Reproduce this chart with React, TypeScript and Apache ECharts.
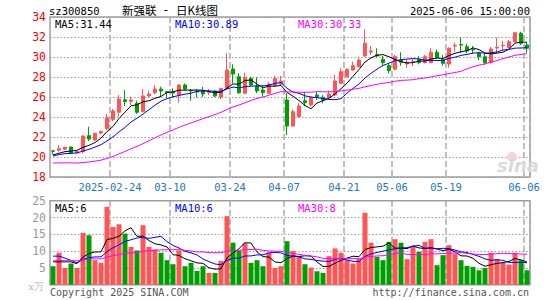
import React, { useEffect, useRef } from 'react';
import * as echarts from 'echarts';

const dates = [
  '2025-02-10','2025-02-11','2025-02-12','2025-02-13','2025-02-14','2025-02-17','2025-02-18','2025-02-19','2025-02-20','2025-02-21',
  '2025-02-24','2025-02-25','2025-02-26','2025-02-27','2025-02-28','2025-03-03','2025-03-04','2025-03-05','2025-03-06','2025-03-07',
  '2025-03-10','2025-03-11','2025-03-12','2025-03-13','2025-03-14','2025-03-17','2025-03-18','2025-03-19','2025-03-20','2025-03-21',
  '2025-03-24','2025-03-25','2025-03-26','2025-03-27','2025-03-28','2025-03-31','2025-04-01','2025-04-02','2025-04-03','2025-04-07',
  '2025-04-08','2025-04-09','2025-04-10','2025-04-11','2025-04-14','2025-04-15','2025-04-16','2025-04-17','2025-04-18','2025-04-21',
  '2025-04-22','2025-04-23','2025-04-24','2025-04-25','2025-04-28','2025-04-29','2025-04-30','2025-05-06','2025-05-07','2025-05-08',
  '2025-05-09','2025-05-12','2025-05-13','2025-05-14','2025-05-15','2025-05-16','2025-05-19','2025-05-20','2025-05-21','2025-05-22',
  '2025-05-23','2025-05-26','2025-05-27','2025-05-28','2025-05-29','2025-05-30','2025-06-03','2025-06-04','2025-06-05','2025-06-06'
];

const opens = [
  20.62,20.68,20.78,21.00,20.42,20.55,22.13,21.70,22.40,22.85,
  23.77,24.47,25.72,25.57,25.37,24.53,26.10,26.43,26.80,26.55,
  26.50,26.20,27.20,26.65,26.60,26.60,26.45,26.60,26.00,26.87,
  28.80,28.03,26.37,27.87,27.10,26.70,26.37,27.13,27.30,25.70,
  23.10,24.03,25.63,25.20,26.20,25.97,25.97,26.20,27.37,28.03,
  28.70,29.03,30.10,30.50,30.23,29.77,29.13,28.77,29.70,29.30,
  29.53,29.77,29.43,29.43,30.47,29.77,29.30,31.10,31.25,31.03,
  30.75,30.37,30.03,29.43,30.90,31.13,30.93,31.53,32.37,31.20
];
const closes = [
  20.57,20.83,20.98,20.40,20.55,22.10,21.80,22.37,22.55,23.93,
  24.60,25.80,25.55,25.70,24.47,26.10,26.30,26.80,26.60,26.45,
  26.40,27.20,26.80,26.60,26.50,26.30,26.55,26.10,26.87,28.70,
  28.30,26.43,27.93,27.20,26.60,26.43,27.30,27.87,27.60,23.10,
  24.53,25.10,25.43,25.97,25.97,25.70,26.30,27.60,28.53,28.77,
  29.13,29.70,31.37,30.60,30.10,29.43,28.63,30.03,29.47,29.47,
  29.57,29.43,30.03,30.47,29.97,29.37,30.87,31.17,31.20,30.60,
  30.70,30.03,29.43,30.80,30.97,31.17,31.53,32.43,31.37,30.87
];
const lows = [
  20.25,20.55,20.72,20.35,20.38,20.35,21.60,21.60,22.25,22.70,
  23.60,24.03,25.10,25.20,24.30,24.47,25.93,26.30,25.97,25.90,
  26.00,25.43,26.70,25.63,25.95,26.00,26.20,26.00,25.80,26.77,
  27.37,26.30,26.30,27.03,26.37,26.03,26.30,27.03,27.10,22.20,
  23.03,23.95,25.10,25.10,25.70,25.37,25.87,26.10,27.30,27.97,
  28.63,28.97,30.03,30.20,29.97,29.20,28.37,28.70,29.13,28.93,
  29.10,29.27,29.37,29.37,29.87,29.13,28.93,30.53,30.43,30.37,
  30.37,29.70,29.20,29.37,30.37,30.70,30.87,31.43,31.20,30.43
];
const highs = [
  20.64,21.20,21.02,21.05,20.60,22.15,23.03,22.42,22.65,24.30,
  24.80,26.20,26.70,26.03,25.63,26.80,26.63,27.20,27.03,26.60,
  26.87,27.30,27.35,26.80,26.75,27.00,26.80,26.70,26.90,30.37,
  29.27,28.37,28.43,28.03,27.97,27.20,27.47,28.10,28.10,26.37,
  24.77,25.37,26.53,26.10,26.53,26.20,26.63,28.20,28.87,28.87,
  29.53,30.03,32.77,31.10,30.87,30.10,29.37,30.20,30.47,29.70,
  29.77,30.10,30.20,30.87,30.77,30.20,30.97,31.43,31.97,31.30,
  31.10,30.53,30.37,31.03,31.97,31.63,31.70,32.53,32.53,31.43
];
// volume, unit 万手
const volumes = [
  5.5,9.5,5.0,6.3,5.0,15.4,14.7,7.3,6.5,23.2,
  17.2,18.0,15.2,11.25,10.2,17.7,11.25,10.5,9.5,7.3,
  6.1,10.2,5.5,6.5,4.1,5.5,3.5,3.5,7.1,20.4,
  12.5,10.2,12.3,6.5,7.3,5.5,9.5,5.0,5.5,12.95,
  10.0,8.5,6.1,5.1,4.0,3.5,8.5,10.8,9.5,7.3,
  6.3,7.8,21.4,12.5,8.3,7.3,12.75,13.55,12.5,7.6,
  11.25,9.8,12.75,13.55,5.8,8.8,11.75,9.3,7.3,5.6,
  5.3,4.3,5.0,9.5,7.6,6.5,6.0,9.5,7.3,4.3
];
// estimated lead-in sessions before the first visible day (needed for the moving averages)
const leadCloses = [
  20.8,20.6,20.7,20.9,20.6,20.2,19.8,19.5,19.0,18.6,
  18.3,18.0,17.6,17.4,17.8,17.5,18.0,18.3,18.6,18.9,
  19.6,19.9,20.1,20.2,20.2,20.0,20.2,20.1,20.2
];
const leadVolumes = [
  6.0,7.5,5.5,6.8,8.0,5.2,6.5,7.0,5.8,6.2,
  7.3,5.0,6.6,7.2,5.9,6.4,7.0,5.6,6.1,6.4,
  9.5,11.0,13.0,12.3,5.2,9.5,5.0,6.3,7.7
];

const tickDates = ['2025-02-24','2025-03-10','2025-03-24','2025-04-07','2025-04-21','2025-05-06','2025-05-19','2025-06-06'];
const tickLabels = ['2025-02-24','03-10','03-24','04-07','04-21','05-06','05-19','06-06'];
const priceMaLabels = ['MA5:31.44','MA10:30.89','MA30:30.33'];
const volumeMaLabels = ['MA5:6','MA10:6','MA30:8'];
const maPeriods = [5, 10, 30];
const maColors = ['#000000', '#0000ff', '#ff00ff'];

const UP = '#ff5555';
const DOWN = '#009f00';
const MONO = '"DejaVu Sans Mono", "Liberation Mono", monospace';
const CJK = '"Noto Sans CJK SC", "Noto Sans", sans-serif';

function movingAverage(values: number[], lead: number[], n: number): number[] {
  const all = lead.concat(values);
  return values.map((_, i) => {
    const end = lead.length + i;
    let s = 0;
    for (let k = end - n + 1; k <= end; k++) s += all[k];
    return +(s / n).toFixed(3);
  });
}

export default function App() {
  const ref = useRef<HTMLDivElement>(null);
  useEffect(() => {
    if (!ref.current) return;
    const chart = echarts.init(ref.current, undefined, { renderer: 'svg' });
    const tickSet = new Set(tickDates);
    const labelOf: Record<string, string> = {};
    tickDates.forEach((d, i) => (labelOf[d] = tickLabels[i]));
    const isTick = (_i: number, v: string) => tickSet.has(v);

    const kData = dates.map((_, i) => [opens[i], closes[i], lows[i], highs[i]]);
    const volData = volumes.map((v, i) => ({
      value: v,
      itemStyle: { color: closes[i] >= opens[i] ? UP : DOWN },
    }));

    const gridLineV = { show: true, interval: isTick, lineStyle: { color: '#aaaaaa', width: 1.5, type: [6, 3] as any } };
    const gridLineH = { show: true, lineStyle: { color: '#999999', width: 1, type: [1.5, 2] as any } };

    const priceMaSeries = maPeriods.map((n, k) => ({
      type: 'line', xAxisIndex: 0, yAxisIndex: 0, name: 'MA' + n,
      data: movingAverage(closes, leadCloses, n),
      showSymbol: false, symbol: 'none', silent: true,
      lineStyle: { color: maColors[k], width: 1 }, z: 3,
    }));
    const volMaSeries = maPeriods.map((n, k) => ({
      type: 'line', xAxisIndex: 1, yAxisIndex: 1, name: 'VMA' + n,
      data: movingAverage(volumes, leadVolumes, n),
      showSymbol: false, symbol: 'none', silent: true,
      lineStyle: { color: maColors[k], width: 1 }, z: 3,
    }));

    const maTextX = [55, 175, 298];
    const graphics: any[] = [
      { type: 'text', x: 49, y: 10.5, style: { text: 'sz300850', font: '10.5px ' + MONO, fill: '#000', verticalAlign: 'middle' } },
      { type: 'text', x: 122, y: 10, style: { text: '新强联', font: '11.5px ' + CJK, fill: '#000', verticalAlign: 'middle' } },
      { type: 'text', x: 166, y: 10, style: { text: '-', font: '11.5px ' + MONO, fill: '#000', align: 'center', verticalAlign: 'middle' } },
      { type: 'text', x: 176, y: 10, style: { text: '日K线图', font: '11.5px ' + CJK, fill: '#000', verticalAlign: 'middle' } },
      { type: 'text', x: 530, y: 10.5, style: { text: '2025-06-06 15:00:00', font: '10.5px ' + MONO, fill: '#000', align: 'right', verticalAlign: 'middle' } },
      { type: 'text', x: 44, y: 286, style: { text: 'x万', font: '10px "DejaVu Serif"', fill: '#bbbbbb', align: 'right', verticalAlign: 'middle' } },
      { type: 'text', x: 50, y: 292.5, style: { text: 'Copyright 2025 SINA.COM', font: '10px ' + MONO, fill: '#555', verticalAlign: 'middle' } },
      { type: 'text', x: 529, y: 292.5, style: { text: 'http://finance.sina.com.cn', font: '10px ' + MONO, fill: '#555', align: 'right', verticalAlign: 'middle' } },
      { type: 'circle', shape: { cx: 512, cy: 157, r: 5 }, style: { fill: '#f3d3d3' }, z: 1 },
      { type: 'text', x: 497, y: 165, style: { text: 'sina', font: 'italic bold 18px "DejaVu Sans"', fill: '#dadada', verticalAlign: 'middle' }, z: 1 },
    ];
    priceMaLabels.forEach((t, k) => graphics.push({
      type: 'text', x: maTextX[k], y: 24, z: 10,
      style: { text: t, font: '10.5px ' + MONO, fill: maColors[k], verticalAlign: 'middle' },
    }));
    volumeMaLabels.forEach((t, k) => graphics.push({
      type: 'text', x: maTextX[k], y: 207.5, z: 10,
      style: { text: t, font: '10.5px ' + MONO, fill: maColors[k], verticalAlign: 'middle' },
    }));

    chart.setOption({
      animation: false,
      grid: [
        { left: 50, right: 15, top: 17, height: 160, show: true, borderColor: '#a0a0a0', borderWidth: 1.5, backgroundColor: 'transparent' },
        { left: 50, right: 15, top: 200.7, height: 84, show: true, borderColor: '#a0a0a0', borderWidth: 1.5, backgroundColor: 'transparent' },
      ],
      xAxis: [
        {
          type: 'category', gridIndex: 0, data: dates, boundaryGap: true,
          axisLine: { show: false }, axisTick: { show: false },
          axisLabel: {
            show: true, interval: isTick, formatter: (v: string) => labelOf[v] || '',
            color: '#1a78c2', fontSize: 10.5, fontFamily: MONO, margin: 4, padding: [0, 6, 0, 0],
          },
          splitLine: gridLineV,
        },
        {
          type: 'category', gridIndex: 1, data: dates, boundaryGap: true,
          axisLine: { show: false }, axisTick: { show: false }, axisLabel: { show: false },
          splitLine: gridLineV,
        },
      ],
      yAxis: [
        {
          type: 'value', gridIndex: 0, min: 18, max: 34, interval: 2,
          axisLine: { show: false }, axisTick: { show: false },
          axisLabel: { color: '#ff0000', fontSize: 11.5, fontFamily: MONO, margin: 4 },
          splitLine: gridLineH,
        },
        {
          type: 'value', gridIndex: 1, min: 0, max: 25, interval: 5,
          axisLine: { show: false }, axisTick: { show: false },
          axisLabel: { color: '#999999', fontSize: 11.5, fontFamily: MONO, margin: 4, formatter: (v: number) => (v === 0 ? '' : String(v)) },
          splitLine: gridLineH,
        },
      ],
      series: [
        {
          type: 'candlestick', xAxisIndex: 0, yAxisIndex: 0, name: 'K', data: kData,
          barWidth: 4, silent: true, z: 2,
          itemStyle: { color: UP, color0: DOWN, borderColor: UP, borderColor0: DOWN, borderWidth: 1 },
        },
        ...priceMaSeries,
        {
          type: 'bar', xAxisIndex: 1, yAxisIndex: 1, name: 'VOL', data: volData,
          barWidth: 5, silent: true, z: 2,
        },
        ...volMaSeries,
      ],
      graphic: graphics,
    });
    return () => chart.dispose();
  }, []);
  return <div ref={ref} style={{ position: 'fixed', left: 0, top: 0, width: 545, height: 300, background: '#fff' }} />;
}
